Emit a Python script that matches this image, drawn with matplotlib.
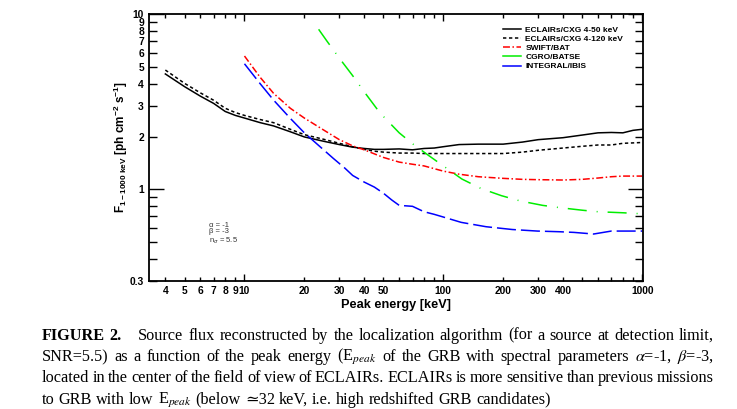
import matplotlib
matplotlib.use('Agg')
import matplotlib.pyplot as plt
from matplotlib.lines import Line2D

# ---------------- data ----------------
eclairs50_x = [4, 5, 6, 7, 8, 9, 10, 12, 14, 17, 20, 25, 30, 35, 40, 45, 50, 60, 70, 80, 90,
               100, 120, 150, 200, 250, 300, 400, 500, 600, 700, 800, 900, 1000]
eclairs50_y = [4.55, 3.85, 3.4, 3.09, 2.78, 2.64, 2.55, 2.4, 2.3, 2.13, 1.99, 1.88, 1.8, 1.74, 1.71,
               1.69, 1.69, 1.70, 1.68, 1.71, 1.72, 1.75, 1.80, 1.81, 1.81, 1.86, 1.92, 1.97, 2.04,
               2.1, 2.11, 2.1, 2.17, 2.2]

eclairs120_x = [4, 5, 6, 7, 8, 9, 10, 12, 14, 17, 20, 25, 30, 35, 40, 45, 50, 60, 70, 80,
                100, 150, 200, 250, 300, 400, 500, 600, 700, 800, 900, 1000]
eclairs120_y = [4.79, 4.02, 3.55, 3.22, 2.9, 2.74, 2.64, 2.5, 2.4, 2.2, 2.05, 1.93, 1.83, 1.75, 1.69,
                1.65, 1.63, 1.61, 1.61, 1.60, 1.60, 1.60, 1.60, 1.63, 1.67, 1.72, 1.76, 1.79, 1.79,
                1.83, 1.84, 1.85]

swift_x = [10, 12, 14, 17, 20, 25, 30, 35, 40, 50, 60, 70, 80, 100, 120, 150, 200, 250, 300,
           400, 500, 600, 700, 800, 1000]
swift_y = [5.76, 4.35, 3.53, 2.9, 2.55, 2.18, 1.92, 1.77, 1.68, 1.52, 1.43, 1.39, 1.36, 1.27, 1.22,
           1.18, 1.155, 1.14, 1.135, 1.13, 1.14, 1.16, 1.18, 1.19, 1.19]

batse_x = [23.6, 26, 30, 35, 40, 48, 60, 70, 85, 100, 124, 155, 196, 245, 316, 389, 500, 600,
           800, 1000]
batse_y = [8.18, 7.0, 5.6, 4.45, 3.6, 2.73, 2.1, 1.82, 1.55, 1.36, 1.145, 1.01, 0.92, 0.857, 0.81,
           0.785, 0.76, 0.745, 0.735, 0.725]

ibis_x = [10, 12, 14, 17, 20, 25, 28, 32, 35, 40, 45, 50, 55, 60, 70, 80, 90, 100, 123, 164, 222,
          297, 383, 454, 570, 700, 1000]
ibis_y = [5.2, 4.0, 3.23, 2.54, 2.1, 1.68, 1.5, 1.32, 1.2, 1.1, 1.03, 0.95, 0.87, 0.81, 0.80, 0.745,
          0.72, 0.695, 0.648, 0.612, 0.59, 0.578, 0.573, 0.568, 0.556, 0.578, 0.578]

series_names = ["ECLAIRs/CXG 4-50 keV", "ECLAIRs/CXG 4-120 keV", "SWIFT/BAT",
                "CGRO/BATSE", "INTEGRAL/IBIS"]

x_tick_labels = [4, 5, 6, 7, 8, 9, 10, 20, 30, 40, 50, 100, 200, 300, 400, 1000]
y_tick_labels = [0.3, 1, 2, 3, 4, 5, 6, 7, 8, 9, 10]

annotation_lines = ["\u03b1 = -1", "\u03b2 = -3", "n$_{\\sigma}$ = 5.5"]

caption_lines = [
    "FIGURE 2. Source flux reconstructed by the localization algorithm (for a source at detection limit,",
    "SNR=5.5) as a function of the peak energy (E$_{peak}$ of the GRB with spectral parameters $\\alpha$=-1, $\\beta$=-3,",
    "located in the center of the field of view of ECLAIRs. ECLAIRs is more sensitive than previous missions",
    "to GRB with low E$_{peak}$ (below \u224332 keV, i.e. high redshifted GRB candidates)",
]

# ---------------- style ----------------
plt.rcParams['font.family'] = ['Liberation Sans', 'DejaVu Sans']
plt.rcParams['font.weight'] = 'normal'
plt.rcParams['mathtext.fontset'] = 'custom'
plt.rcParams['mathtext.rm'] = 'Liberation Sans:bold'
plt.rcParams['mathtext.bf'] = 'Liberation Sans:bold'
plt.rcParams['mathtext.it'] = 'Liberation Sans:bold:italic'
plt.rcParams['lines.scale_dashes'] = False

W_PX, H_PX = 737, 409
fig = plt.figure(figsize=(W_PX / 100, H_PX / 100), dpi=100)
ax_l, ax_r, ax_t, ax_b = 149, 643, 14, 281
ax = fig.add_axes([ax_l / W_PX, 1 - ax_b / H_PX, (ax_r - ax_l) / W_PX, (ax_b - ax_t) / H_PX])

lw = 1.1
ls_dot = (0, (2.4, 1.9))
ls_swift = (0, (5.0, 1.8, 1.1, 1.8))
ls_batse = (0, (13.7, 7.2, 0.7, 7.2))
ls_ibis = (0, (13.7, 3.6))
c_green = '#00ee00'

ax.plot(eclairs50_x, eclairs50_y, color='black', lw=lw, ls='-')
ax.plot(eclairs120_x, eclairs120_y, color='black', lw=lw, ls=ls_dot)
ax.plot(swift_x, swift_y, color='#ff0000', lw=lw, ls=ls_swift)
ax.plot(batse_x, batse_y, color=c_green, lw=lw, ls=ls_batse)
ax.plot(ibis_x, ibis_y, color='#0000ff', lw=lw, ls=ls_ibis)

ax.set_xscale('log')
ax.set_yscale('log')
ax.set_xlim(3.31, 1010)
ax.set_ylim(0.3, 10)

for s in ax.spines.values():
    s.set_linewidth(1.3)


def lab(v, allowed):
    return ('%g' % v) if any(abs(v - t) < 1e-6 * t for t in allowed) else ''


x_major = [10, 100, 1000]
x_minor = [m * d for d in (1, 10, 100) for m in range(2, 10)]
y_major = [1, 10]
y_minor = [m * d for d in (0.1, 1) for m in range(2, 10)]

tick_fs = 7.4
ax.set_xticks(x_major, [lab(v, x_tick_labels) for v in x_major], fontweight='bold', fontsize=tick_fs)
ax.set_xticks(x_minor, [lab(v, x_tick_labels) for v in x_minor], minor=True,
              fontweight='bold', fontsize=tick_fs)
ax.set_yticks(y_major, [lab(v, y_tick_labels) for v in y_major], fontweight='bold', fontsize=tick_fs)
ax.set_yticks(y_minor, [lab(v, y_tick_labels) for v in y_minor], minor=True,
              fontweight='bold', fontsize=tick_fs)
ax.set_xlim(3.31, 1010)
ax.set_ylim(0.3, 10)

ax.tick_params(which='both', direction='in', top=True, right=True, width=1.0, colors='black')
ax.tick_params(axis='x', which='major', length=5.0, pad=3.5)
ax.tick_params(axis='x', which='minor', length=2.9, pad=3.5)
ax.tick_params(axis='y', which='major', length=10.8, pad=3.6)
ax.tick_params(axis='y', which='minor', length=5.8, pad=3.6)

ax.set_xlabel("Peak energy [keV]", fontsize=9.2, fontweight='bold')
ax.xaxis.set_label_coords(0.5, -0.066)
ax.set_ylabel(r"F$_{\mathrm{1-1000\ keV}}$ [ph cm$^{\mathrm{-2}}$ s$^{\mathrm{-1}}$]",
              fontsize=8.5, fontweight='bold')
ax.yaxis.set_label_coords(-0.038, 0.5)

# legend
handles = [
    Line2D([], [], color='black', lw=lw, ls='-'),
    Line2D([], [], color='black', lw=lw, ls=ls_dot),
    Line2D([], [], color='#ff0000', lw=lw, ls=ls_swift),
    Line2D([], [], color=c_green, lw=lw, ls='-'),
    Line2D([], [], color='#0000ff', lw=lw, ls='-'),
]
leg = ax.legend(handles, series_names, loc='upper left', bbox_to_anchor=(0.716, 0.954),
                frameon=False, fontsize=6.0, handlelength=2.2, handletextpad=0.5,
                labelspacing=0.15, borderpad=0.0, borderaxespad=0.0)
for t in leg.get_texts():
    t.set_fontweight('bold')

# annotation
ax.text(0.121, 0.222, "\n".join(annotation_lines), transform=ax.transAxes,
        fontsize=5.5, fontweight='normal', color='#333333', va='top', ha='left',
        linespacing=0.95, math_fontfamily='dejavusans')

# ---------------- caption (justified) ----------------
serif = ['Liberation Serif', 'DejaVu Serif']
fig.canvas.draw()
rend = fig.canvas.get_renderer()

probe = fig.text(0, 0, caption_lines[3], fontsize=11, family=serif, fontweight='normal',
                 math_fontfamily='stix')
w11 = probe.get_window_extent(rend).width
probe.remove()
x_left, x_right = 41.7, 714.0
cap_fs = 11 * (544.3 - x_left) / w11
baselines = [339.5, 361, 382.5, 403.5]
space_px = 0.25 * cap_fs * 100 / 72

for i, line in enumerate(caption_lines):
    words = line.split(' ')
    objs = []
    for j, w in enumerate(words):
        weight = 'bold' if (i == 0 and j < 2) else 'normal'
        t = fig.text(0, 0, w, fontsize=cap_fs, family=serif, fontweight=weight,
                     math_fontfamily='stix', ha='left', va='baseline')
        objs.append(t)
    widths = [t.get_window_extent(rend).width for t in objs]
    gw = [1.0] * (len(words) - 1)
    if i == 0:
        gw[1] = 3.2
    if i < len(caption_lines) - 1:
        unit = (x_right - x_left - sum(widths)) / sum(gw)
    else:
        unit = space_px
    xpos = x_left
    yb = 1 - baselines[i] / H_PX
    for k, t in enumerate(objs):
        t.set_position((xpos / W_PX, yb))
        xpos += widths[k] + (unit * gw[k] if k < len(gw) else 0)

fig.savefig('out.png', dpi=100)
